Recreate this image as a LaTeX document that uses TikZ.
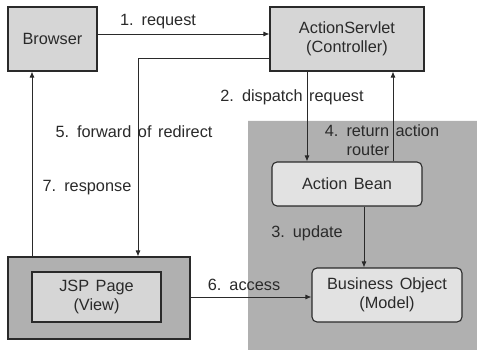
\documentclass[tikz,border=0pt]{standalone}
\usepackage{fontspec}
\setmainfont{Liberation Sans}
\usetikzlibrary{arrows.meta,calc}
\definecolor{ink}{HTML}{2A2A2A}
\definecolor{boxgray}{HTML}{D6D6D6}
\definecolor{regiongray}{HTML}{B0B0B0}
\definecolor{innergray}{HTML}{E2E2E2}
\definecolor{jspgray}{HTML}{B0B0B0}
\newcommand\mywidespace{\spaceskip=0.4em plus 0.1em\relax}
\begin{document}
\begin{tikzpicture}[x=1pt,y=-1pt,
  every node/.style={font=\fontsize{16.3}{18.5}\selectfont\mywidespace, text=ink},
  plainbox/.style={draw=ink, line width=1.1pt, fill=boxgray, inner sep=0pt},
  roundbox/.style={draw=ink, line width=1.1pt, fill=innergray, rounded corners=5pt, inner sep=0pt},
  conn/.style={draw=ink, line width=0.9pt},
  arr/.style={conn, -{Latex[length=6pt,width=5pt]}},
  lbl/.style={inner sep=0pt, fill=none}]
\useasboundingbox (0,0) rectangle (477,350);
\fill[white] (0,0) rectangle (477,350);
% big shaded region
\path[draw=ink, line width=0.9pt, fill=regiongray] (478,121) -- (248,121) -- (248,351);
\fill[regiongray] (248.4,121.4) rectangle (478,351);
% boxes
\node[plainbox, minimum width=89pt, minimum height=64pt] (browser) at (52.5,39) {Browser};
\node[plainbox, minimum width=154pt, minimum height=64pt, align=center] (servlet) at (347,39) {ActionServlet\\[1pt](Controller)};
\node[roundbox, minimum width=150pt, minimum height=44pt] (bean) at (347,184) {Action Bean};
\node[roundbox, minimum width=150pt, minimum height=54pt, align=center] (bo) at (387,295) {Business Object\\[1pt](Model)};
\node[plainbox, fill=jspgray, minimum width=182pt, minimum height=82pt] (jspouter) at (99,298) {};
\node[plainbox, fill=boxgray, minimum width=129pt, minimum height=50pt, align=center] (jsp) at (96.5,297) {JSP Page\\[1pt](View)};
% helper coordinates
\coordinate (c5) at (138,58);
% connectors
\draw[arr] (browser.east |- 0,34) -- (servlet.west |- 0,34);
\draw[arr] (servlet.west |- c5) -- (c5) -- (c5 |- jspouter.north);
\draw[arr] (jspouter.north -| 32,0) -- (browser.south -| 32,0);
\draw[arr] (servlet.south -| 307,0) -- (bean.north -| 307,0);
\draw[arr] (bean.north -| 393,0) -- (servlet.south -| 393,0);
\draw[arr] (bean.south -| 364,0) -- (bo.north -| 364,0);
\draw[arr] (jspouter.east |- 0,297) -- (bo.west |- 0,297);
% labels
\node[lbl] (l1) at (158,22) {1. request};
\node[lbl] (l2) at (292,97) {2. dispatch request};
\node[lbl] (l4a) at (382,131) {4. return action};
\node[lbl] (l4b) at (368,150) {router};
\node[lbl] (l5) at (134,132) {5. forward of redirect};
\node[lbl] (l7) at (87,188) {7. response};
\node[lbl] (l3) at (307,233) {3. update};
\node[lbl] (l6) at (244,285) {6. access};
\end{tikzpicture}
\end{document}
